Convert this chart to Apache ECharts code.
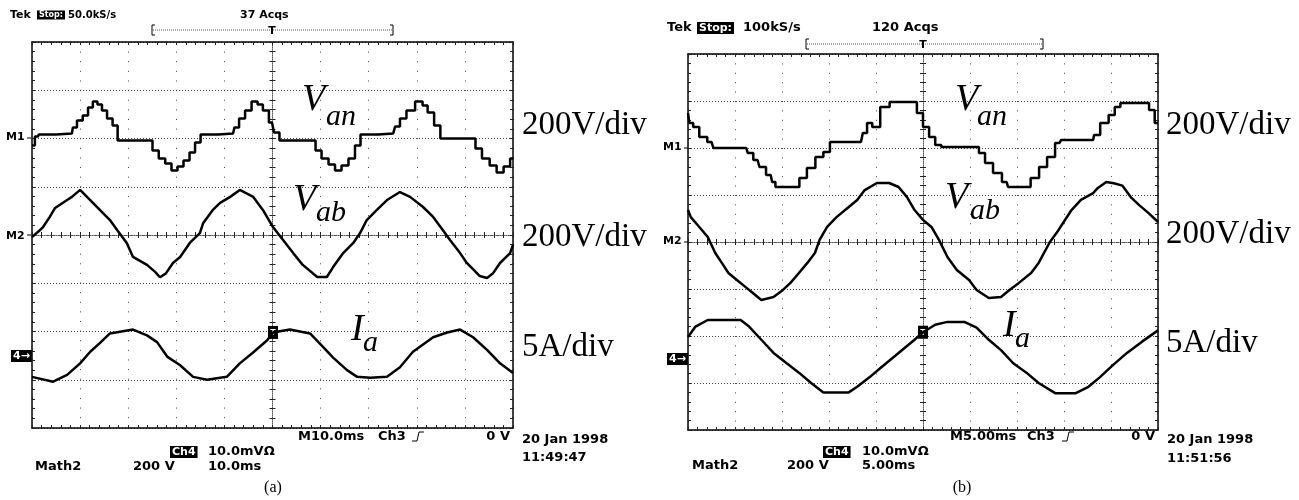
<!DOCTYPE html>
<html>
<head>
<meta charset="utf-8">
<title>Scope traces</title>
<script src="https://cdn.jsdelivr.net/npm/echarts@6/dist/echarts.min.js"></script>
<style>
  html, body { margin: 0; padding: 0; background: #fff; }
  #chart { width: 1299px; height: 500px; }
</style>
</head>
<body>
<div id="chart"></div>
<script>
const vanA = [[-50.0,-29],[-48.8,8],[-48.3,17],[-41.7,21],[-41.3,46],[-40.0,75],[-38.9,95],[-37.8,128],[-36.9,153],[-35.9,141],[-35.0,116],[-33.8,83],[-32.7,54],[-31.7,-8],[-25.5,-8],[-24.4,-50],[-22.9,-83],[-21.7,-104],[-20.3,-133],[-19.2,-116],[-17.8,-91],[-16.7,-58],[-15.5,-17],[-14.4,17],[-8.2,21],[-7.6,46],[-6.3,83],[-5.1,116],[-3.6,153],[-2.6,141],[-1.4,116],[-0.1,66],[0.7,25],[2.2,-8],[8.4,-8],[9.5,-50],[10.9,-83],[12.4,-108],[13.6,-133],[15.1,-112],[16.5,-83],[17.8,-29],[18.8,17],[25.1,21],[25.9,50],[27.1,83],[28.6,116],[30.7,153],[31.7,137],[32.8,108],[34.4,54],[35.4,0],[41.7,0],[42.7,-41],[44.4,-83],[45.9,-112],[47.3,-141],[48.8,-116],[50.0,-83]];
const vabA = [[-50.0,-8],[-48.3,21],[-47.7,33],[-46.3,75],[-45.2,112],[-42.7,145],[-41.7,158],[-40.0,187],[-37.9,145],[-35.9,104],[-33.8,62],[-32.3,21],[-30.3,-33],[-29.0,-91],[-26.1,-124],[-24.4,-153],[-23.4,-175],[-22.2,-160],[-20.7,-116],[-19.2,-91],[-17.2,-33],[-15.1,8],[-14.4,50],[-12.4,104],[-10.9,133],[-8.8,158],[-6.8,187],[-4.0,158],[-2.0,104],[0.1,33],[2.2,-21],[4.3,-75],[6.3,-124],[9.3,-174],[11.3,-174],[12.6,-133],[14.7,-75],[16.8,-33],[18.2,8],[19.6,62],[21.7,104],[23.8,145],[26.5,178],[28.6,158],[31.3,116],[33.4,75],[35.4,21],[36.9,-21],[39.0,-75],[40.4,-116],[43.1,-170],[44.6,-178],[45.8,-160],[47.3,-116],[49.4,-75],[50.0,-41]];
const iaA = [[-50.0,-2.2],[-45.6,-2.7],[-42.7,-2.0],[-40.0,-0.8],[-37.9,0.4],[-35.9,1.3],[-33.8,2.3],[-29.0,2.7],[-26.1,2.1],[-24.0,1.4],[-21.9,-0.1],[-19.2,-1.0],[-16.5,-2.2],[-13.6,-2.5],[-9.5,-2.2],[-6.8,-0.8],[-4.1,0.3],[-1.1,1.6],[0.1,2.4],[3.6,2.7],[7.8,2.3],[10.5,0.9],[12.6,-0.2],[15.5,-1.5],[17.6,-2.2],[20.3,-2.3],[23.8,-2.2],[26.5,-1.2],[29.2,0.4],[33.4,1.9],[36.3,2.4],[39.0,2.7],[41.7,1.9],[44.6,0.6],[47.3,-0.8],[50.0,-1.8]];

const vanB = [[-25.0,149],[-24.7,106],[-24.2,89],[-23.4,47],[-22.5,26],[-22.1,0],[-18.8,0],[-18.5,-21],[-17.6,-51],[-17.2,-81],[-16.2,-115],[-15.9,-145],[-15.5,-166],[-13.5,-166],[-12.8,-128],[-11.9,-85],[-11.0,-38],[-10.2,-17],[-9.6,26],[-6.6,26],[-6.2,64],[-5.7,106],[-5.1,89],[-4.0,174],[-3.1,196],[-0.9,196],[-0.4,149],[0.4,89],[0.9,47],[1.7,13],[2.2,4],[5.7,4],[6.2,-21],[7.0,-64],[7.9,-106],[8.9,-145],[9.2,-166],[11.0,-166],[11.9,-128],[12.8,-81],[13.6,-38],[14.5,21],[14.9,34],[18.1,34],[18.3,55],[19.4,106],[20.1,140],[20.7,174],[21.3,191],[23.8,191],[24.3,162],[25.0,106]];
const vabB = [[-25.0,136],[-24.7,106],[-23.8,64],[-22.9,21],[-22.1,-47],[-21.4,-89],[-20.7,-132],[-19.8,-162],[-18.9,-191],[-18.1,-217],[-17.2,-247],[-15.9,-234],[-14.9,-204],[-14.1,-174],[-13.2,-132],[-12.3,-89],[-11.5,-47],[-11.0,9],[-10.2,64],[-9.2,106],[-7.9,149],[-7.0,179],[-6.2,221],[-4.9,251],[-3.6,251],[-2.6,234],[-1.7,191],[-0.9,136],[0.0,94],[0.9,64],[1.7,9],[2.6,-64],[3.6,-119],[4.9,-162],[5.7,-204],[7.0,-238],[8.3,-234],[9.2,-204],[10.2,-174],[11.5,-132],[12.3,-89],[13.5,0],[14.2,38],[14.9,81],[15.8,136],[16.8,179],[18.1,208],[18.6,230],[19.5,255],[20.3,250],[21.2,240],[22.1,191],[23.0,157],[24.0,123],[25.0,85]];
const iaB = [[-25.0,2.4],[-24.2,3.5],[-22.9,4.2],[-19.4,4.2],[-18.5,3.5],[-17.2,2.1],[-15.9,0.7],[-14.5,-0.4],[-13.2,-1.4],[-11.9,-2.5],[-10.6,-3.5],[-7.9,-3.5],[-7.0,-2.9],[-5.7,-1.9],[-4.4,-0.8],[-2.6,0.7],[-0.9,2.1],[0.0,2.9],[1.3,3.7],[2.6,4.0],[4.4,4.0],[5.7,3.4],[7.0,2.1],[8.3,1.0],[9.6,-0.4],[11.0,-1.4],[12.3,-2.5],[14.1,-3.6],[16.2,-3.6],[17.6,-2.9],[18.8,-1.9],[20.2,-0.6],[21.7,0.7],[23.3,1.9],[25.0,3.1]];

// channel settings: volts (or amps) per division and screen offset in divisions
const voltsPerDiv = 200;
const ampsPerDiv = 5;
const offsetM1 = 2, offsetM2 = 0, offsetCh4 = -2.5;

const scopeFont = 'bold 13px "DejaVu Sans", sans-serif';
const smallFont = 'bold 11px "DejaVu Sans", sans-serif';
const miniFont = 'bold 10px "DejaVu Sans", sans-serif';
const tinyFont = 'bold 8px "DejaVu Sans", sans-serif';
const serif = '"Liberation Serif", "Times New Roman", serif';

function txt(x, y, text, extra = {}) {
    const align = extra.align || 'left';
    return {
        type: 'text', x, y, silent: true, z: 10,
        style: Object.assign({
            text, font: scopeFont, fill: '#000',
            align, textAlign: align, verticalAlign: 'middle', textVerticalAlign: 'middle'
        }, extra)
    };
}
function boxTxt(x, y, text, font = smallFont) {
    return txt(x, y, text, { fill: '#fff', backgroundColor: '#000', padding: [1, 2, 0, 2], font });
}
function pline(points, stroke = '#000', dash = null) {
    return { type: 'polyline', silent: true, z: 10, shape: { points }, style: { stroke, fill: null, lineWidth: 1, lineDash: dash } };
}

function axesFor(gi, half, step, W, H) {
    const common = {
        gridIndex: gi, type: 'value', min: -half, max: half, interval: step,
        axisLabel: { show: false }, splitLine: { show: false }
    };
    const solid = { show: true, onZero: false, lineStyle: { color: '#000', width: 1.5 } };
    const dotted = { show: true, onZero: false, lineStyle: { color: '#555', width: 1, type: [1, 1] } };
    const hidden = { show: false, onZero: false };
    const tick = inside => ({ show: true, inside, length: 3, lineStyle: { color: '#222', width: 1 } });
    const minor = { show: true, splitNumber: 5, length: 3, lineStyle: { color: '#222', width: 1 } };
    const gapX = W / (2 * half / step) / 5 - 1;

    const xs = [
        Object.assign({}, common, { position: 'bottom', axisLine: solid, axisTick: tick(true), minorTick: minor,
            splitLine: { show: true, lineStyle: { color: '#444', width: 1, type: [1, gapX] } } }),
        Object.assign({}, common, { position: 'top', axisLine: solid, axisTick: tick(true), minorTick: minor }),
        Object.assign({}, common, { position: 'bottom', offset: -H / 2, axisLine: dotted, axisTick: tick(true), minorTick: minor }),
        Object.assign({}, common, { position: 'bottom', offset: -H / 2, axisLine: hidden, axisTick: tick(false), minorTick: minor })
    ];
    const ycommon = Object.assign({}, common, { min: -4, max: 4, interval: 1 });
    const ys = [
        Object.assign({}, ycommon, { position: 'left', axisLine: solid, axisTick: tick(true), minorTick: minor,
            splitLine: { show: true, lineStyle: { color: '#444', width: 1, type: [1, 2] } } }),
        Object.assign({}, ycommon, { position: 'right', axisLine: solid, axisTick: tick(true), minorTick: minor }),
        Object.assign({}, ycommon, { position: 'left', offset: -W / 2, axisLine: dotted, axisTick: tick(true), minorTick: minor }),
        Object.assign({}, ycommon, { position: 'left', offset: -W / 2, axisLine: hidden, axisTick: tick(false), minorTick: minor })
    ];
    return { xs, ys };
}

function trace(arr, offset, perDiv, axisIdx, stepped, trig) {
    const s = {
        type: 'line', xAxisIndex: axisIdx, yAxisIndex: axisIdx,
        data: arr.map(p => [p[0], offset + p[1] / perDiv]),
        symbol: 'none', showSymbol: false, step: stepped ? 'middle' : false,
        silent: true, clip: true, z: 5,
        lineStyle: { color: '#000', width: 2.5 }
    };
    if (trig) {
        s.markPoint = {
            symbol: 'rect', symbolSize: [10, 13], silent: true,
            itemStyle: { color: '#000' },
            label: { show: true, position: 'inside', formatter: 'T', color: '#fff', fontSize: 9, fontWeight: 'bold' },
            data: [{ coord: [trig[0], offset + trig[1] / perDiv] }]
        };
    }
    return s;
}

const gridA = { left: 32, top: 42, width: 481, height: 386 };
const gridB = { left: 688, top: 54, width: 470, height: 376 };

function buildGraphics() {
    const g = [];
    // ---- panel (a) readouts
    g.push(txt(10, 15, 'Tek', { font: smallFont }), boxTxt(37, 15, 'Stop:', tinyFont), txt(68, 15, '50.0kS/s', { font: miniFont }), txt(240, 15, '37 Acqs', { font: smallFont }));
    g.push(pline([[155, 25], [152, 25], [152, 35], [155, 35]]), pline([[390, 25], [393, 25], [393, 35], [390, 35]]));
    g.push(pline([[153, 30], [392, 30]], '#555', [1, 1]), txt(272, 31, 'T', { align: 'center', font: smallFont }));
    g.push(txt(6, 137, 'M1', { font: smallFont }), pline([[27, 138], [31, 138]]));
    g.push(txt(6, 236, 'M2', { font: smallFont }), pline([[27, 235], [31, 235]]));
    g.push(boxTxt(11, 356, '4→'));
    g.push(txt(298, 437, 'M10.0ms'), txt(378, 437, 'Ch3'), pline([[412, 441], [417, 441], [419, 432], [424, 432]]));
    g.push(txt(510, 437, '0 V', { align: 'right' }));
    g.push(txt(522, 440, '20 Jan 1998'), txt(522, 458, '11:49:47'));
    g.push(boxTxt(170, 452, 'Ch4'), txt(208, 452, '10.0mVΩ'));
    g.push(txt(35, 467, 'Math2'), txt(133, 467, '200 V'), txt(208, 467, '10.0ms'));
    g.push(txt(273, 488, '(a)', { align: 'center', font: '16px ' + serif }));
    // ---- panel (a) channel labels
    g.push(txt(302, 100, 'V', { font: 'italic 38px ' + serif }), txt(326, 117, 'an', { font: 'italic 30px ' + serif }));
    g.push(txt(293, 200, 'V', { font: 'italic 38px ' + serif }), txt(316, 213, 'ab', { font: 'italic 30px ' + serif }));
    g.push(txt(351, 330, 'I', { font: 'italic 38px ' + serif }), txt(363, 343, 'a', { font: 'italic 30px ' + serif }));
    g.push(txt(522, 125, '200V/div', { font: '33px ' + serif }));
    g.push(txt(522, 237, '200V/div', { font: '33px ' + serif }));
    g.push(txt(522, 347, '5A/div', { font: '33px ' + serif }));

    // ---- panel (b) readouts
    g.push(txt(667, 28, 'Tek'), boxTxt(697, 28, 'Stop:'), txt(743, 28, '100kS/s'), txt(872, 28, '120 Acqs'));
    g.push(pline([[809, 39], [806, 39], [806, 49], [809, 49]]), pline([[1040, 39], [1043, 39], [1043, 49], [1040, 49]]));
    g.push(pline([[807, 44], [1042, 44]], '#555', [1, 1]), txt(923, 45, 'T', { align: 'center', font: smallFont }));
    g.push(txt(663, 147, 'M1', { font: smallFont }), pline([[684, 148], [688, 148]]));
    g.push(txt(663, 241, 'M2', { font: smallFont }), pline([[684, 242], [688, 242]]));
    g.push(boxTxt(667, 359, '4→'));
    g.push(txt(950, 437, 'M5.00ms'), txt(1027, 437, 'Ch3'), pline([[1062, 441], [1067, 441], [1069, 432], [1074, 432]]));
    g.push(txt(1155, 437, '0 V', { align: 'right' }));
    g.push(txt(1167, 440, '20 Jan 1998'), txt(1167, 459, '11:51:56'));
    g.push(boxTxt(823, 452, 'Ch4'), txt(862, 452, '10.0mVΩ'));
    g.push(txt(692, 466, 'Math2'), txt(787, 466, '200 V'), txt(862, 466, '5.00ms'));
    g.push(txt(962, 488, '(b)', { align: 'center', font: '16px ' + serif }));
    // ---- panel (b) channel labels
    g.push(txt(955, 100, 'V', { font: 'italic 38px ' + serif }), txt(977, 117, 'an', { font: 'italic 30px ' + serif }));
    g.push(txt(945, 198, 'V', { font: 'italic 38px ' + serif }), txt(970, 211, 'ab', { font: 'italic 30px ' + serif }));
    g.push(txt(1003, 326, 'I', { font: 'italic 38px ' + serif }), txt(1015, 339, 'a', { font: 'italic 30px ' + serif }));
    g.push(txt(1166, 125, '200V/div', { font: '33px ' + serif }));
    g.push(txt(1166, 234, '200V/div', { font: '33px ' + serif }));
    g.push(txt(1166, 343, '5A/div', { font: '33px ' + serif }));
    return g;
}

function render() {
    const chart = echarts.init(document.getElementById('chart'), null, { renderer: 'canvas' });
    const a = axesFor(0, 50, 10, gridA.width, gridA.height);
    const b = axesFor(1, 25, 5, gridB.width, gridB.height);
    const trigA = iaA.find(p => p[0] >= 0);
    const trigB = iaB.find(p => p[0] >= 0);

    chart.setOption({
        animation: false,
        backgroundColor: '#fff',
        grid: [
            Object.assign({ containLabel: false }, gridA),
            Object.assign({ containLabel: false }, gridB)
        ],
        xAxis: a.xs.concat(b.xs),
        yAxis: a.ys.concat(b.ys),
        series: [
            trace(vanA, offsetM1, voltsPerDiv, 0, true),
            trace(vabA, offsetM2, voltsPerDiv, 0, false),
            trace(iaA, offsetCh4, ampsPerDiv, 0, false, trigA),
            trace(vanB, offsetM1, voltsPerDiv, 4, true),
            trace(vabB, offsetM2, voltsPerDiv, 4, false),
            trace(iaB, offsetCh4, ampsPerDiv, 4, false, trigB)
        ],
        graphic: buildGraphics()
    });
}

document.addEventListener('DOMContentLoaded', render);
</script>
</body>
</html>
